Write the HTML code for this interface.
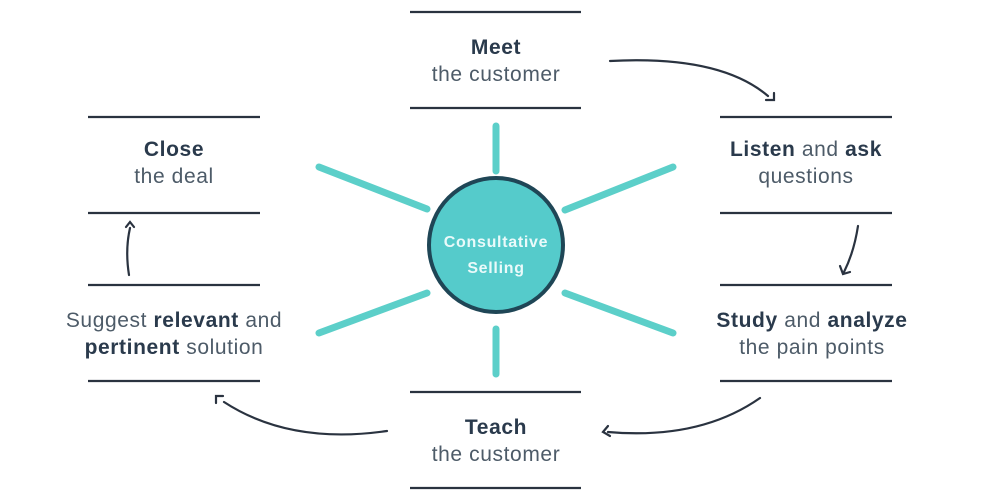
<!DOCTYPE html>
<html><head><meta charset="utf-8"><style>
html,body{margin:0;padding:0;background:#fff;}
svg{display:block;}
text{font-family:"Liberation Sans",sans-serif;font-size:21px;letter-spacing:0.6px;fill:#4d5b68;text-anchor:middle;}
.b{font-weight:bold;fill:#2a3a4c;}
</style></head><body>
<svg width="992" height="500" viewBox="0 0 992 500">
<g stroke="#2a3340" stroke-width="2.2">
<line x1="410" y1="12" x2="581" y2="12"/><line x1="410" y1="108" x2="581" y2="108"/>
<line x1="88" y1="117" x2="260" y2="117"/><line x1="88" y1="213" x2="260" y2="213"/>
<line x1="720" y1="117" x2="892" y2="117"/><line x1="720" y1="213" x2="892" y2="213"/>
<line x1="88" y1="285" x2="260" y2="285"/><line x1="88" y1="381" x2="260" y2="381"/>
<line x1="720" y1="285" x2="892" y2="285"/><line x1="720" y1="381" x2="892" y2="381"/>
<line x1="410" y1="392" x2="581" y2="392"/><line x1="410" y1="488" x2="581" y2="488"/>
</g>
<g stroke="#5ccfc9" stroke-width="7" stroke-linecap="round">
<line x1="496" y1="126" x2="496" y2="171"/>
<line x1="496" y1="329" x2="496" y2="374"/>
<line x1="319" y1="167" x2="427" y2="209"/>
<line x1="673" y1="167" x2="565" y2="210"/>
<line x1="319" y1="333" x2="427" y2="293"/>
<line x1="673" y1="333" x2="565" y2="293"/>
</g>
<circle cx="496" cy="245" r="67" fill="#55cbcb" stroke="#1f4656" stroke-width="4"/>
<text x="496" y="247" style="font-size:16px;letter-spacing:0.7px;font-weight:bold;fill:#eafafa">Consultative</text>
<text x="496" y="273" style="font-size:16px;letter-spacing:0.7px;font-weight:bold;fill:#eafafa">Selling</text>
<g fill="none" stroke="#2a3340" stroke-width="2.2" stroke-linecap="round">
<path d="M610 61 Q720 55 768 96"/><path d="M766 100 L774 100 L774 93"/>
<path d="M858 226 Q854 252 844 272"/><path d="M840 266 L843 274 L850 272"/>
<path d="M760 398 Q700 440 608 432"/><path d="M608 426 L603 432 L610 436"/>
<path d="M387 431 Q290 445 224 402"/><path d="M216 403 L216 396 L223 396"/>
<path d="M129 275 Q125 250 130 228"/><path d="M126 227 L130 222 L134 227"/>
</g>
<text x="496" y="54" class="b">Meet</text><text x="496" y="81">the customer</text>
<text x="174" y="156" class="b">Close</text><text x="174" y="183">the deal</text>
<text x="806" y="156"><tspan class="b">Listen</tspan> and <tspan class="b">ask</tspan></text><text x="806" y="183">questions</text>
<text x="174" y="327">Suggest <tspan class="b">relevant</tspan> and</text><text x="174" y="354"><tspan class="b">pertinent</tspan> solution</text>
<text x="812" y="327"><tspan class="b">Study</tspan> and <tspan class="b">analyze</tspan></text><text x="812" y="354">the pain points</text>
<text x="496" y="434" class="b">Teach</text><text x="496" y="461">the customer</text>
</svg>
</body></html>
